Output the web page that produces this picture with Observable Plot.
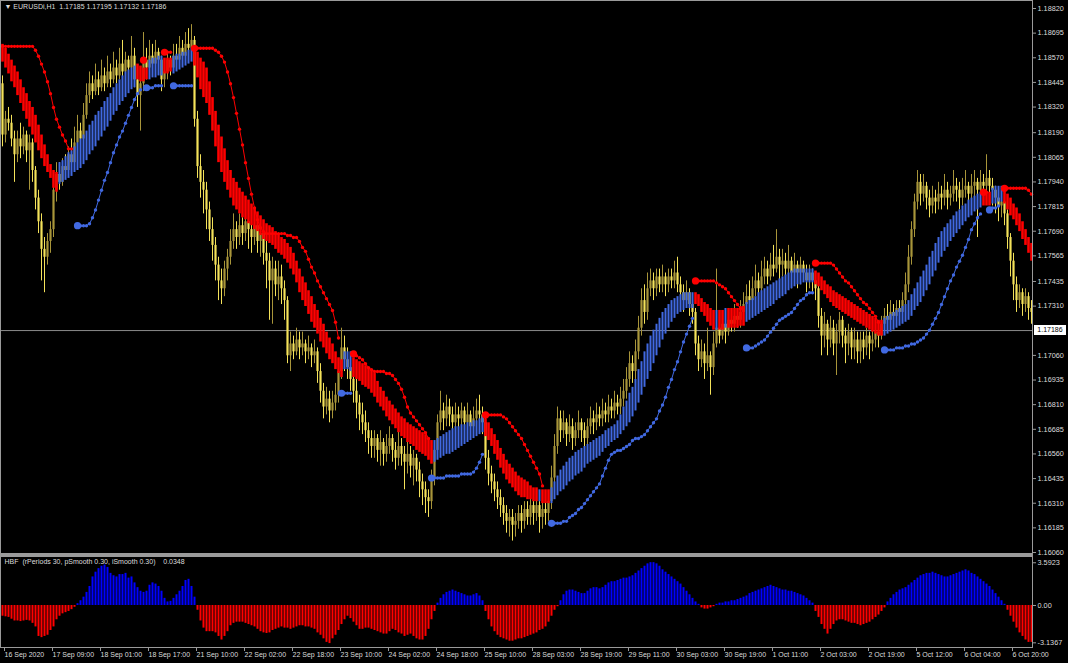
<!DOCTYPE html>
<html><head><meta charset="utf-8">
<script src="https://cdn.jsdelivr.net/npm/d3@7"></script>
<script src="https://cdn.jsdelivr.net/npm/@observablehq/plot@0.6"></script>
<style>
html,body{margin:0;padding:0;background:#000;}
#wrap{position:relative;width:1068px;height:663px;background:#000;overflow:hidden;}
#wrap svg{overflow:visible;display:block;}
#sep{width:1033px;height:3px;background:#9a9a9a;}
#bid{position:absolute;left:1034px;width:32px;height:10px;background:#fff;color:#000;font:7px 'Liberation Sans',Arial,sans-serif;line-height:10px;text-align:center;}
</style></head>
<body><div id="wrap"></div>
<script>
// ---- Data (prices in pips above the base price 1.15938) ----
const basePrice = 1.15938;
const headerText = "\u25BC EURUSDi,H1  1.17185 1.17195 1.17132 1.17186";
const indicatorTitle = "HBF  (rPeriods 30, pSmooth 0.30, iSmooth 0.30)    0.0348";
const bidPrice = 1.17186;

const openPips = [250,224,232,230,222,214,222,218,224,216,220,206,192,180,166,162,170,176,196,204,200,208,206,214,210,220,226,222,234,244,250,246,252,248,254,250,256,252,258,254,260,256,262,258,264,252,244,250,262,258,264,260,266,262,252,256,262,258,264,262,268,264,270,268,272,232,208,200,196,186,176,168,158,150,146,156,162,170,176,172,178,174,180,176,172,178,170,174,164,160,150,156,148,152,146,140,112,118,114,120,116,118,114,116,112,114,104,94,86,90,84,88,92,104,116,110,106,100,94,88,82,78,74,70,66,70,64,68,62,66,70,64,60,66,62,58,62,56,60,54,48,44,40,38,50,64,78,84,80,86,82,78,82,80,84,78,82,76,80,84,82,78,60,52,48,44,40,36,32,28,30,26,28,32,28,34,30,36,32,36,30,34,32,38,50,66,80,74,78,72,76,70,74,78,74,70,76,80,78,82,80,84,82,86,84,88,86,90,94,100,108,104,114,126,140,134,146,150,146,152,148,152,148,152,150,154,148,144,140,144,138,134,118,110,114,108,112,106,118,126,122,128,124,130,128,132,130,134,138,142,140,146,150,146,152,156,152,158,156,162,158,160,156,160,154,158,154,158,154,150,154,150,146,132,122,128,120,126,118,124,130,122,118,124,116,120,114,120,116,122,118,120,124,122,128,132,130,134,132,136,134,140,148,162,176,190,200,194,198,192,188,192,190,194,192,196,192,194,198,196,192,196,198,194,198,200,196,200,198,202,198,196,192,188,190,184,172,160,148,140,144,138,142,136];
const highPips = [254,236,238,234,226,226,230,228,226,224,222,208,196,184,172,174,180,200,210,210,212,214,218,222,228,234,230,240,250,256,254,260,256,262,258,264,260,266,262,268,272,266,264,274,268,256,254,276,268,272,270,272,268,264,262,266,264,270,270,274,272,276,278,280,274,236,214,206,200,190,182,172,162,156,160,166,176,184,180,184,182,186,182,180,182,180,178,176,170,164,162,160,160,158,150,142,124,122,126,124,124,120,122,118,120,116,108,98,96,94,94,98,108,126,122,116,110,106,100,92,88,84,78,74,74,72,74,70,72,76,72,68,78,70,66,68,66,64,62,58,52,48,44,54,68,82,94,88,92,90,86,88,86,88,86,88,84,86,90,92,86,80,64,56,52,48,44,40,36,34,34,32,36,36,38,38,40,38,40,38,40,38,42,56,72,86,84,84,80,82,80,78,84,80,78,80,86,84,88,86,90,88,92,90,94,92,96,100,106,114,112,120,132,146,148,154,156,154,156,156,158,154,156,156,160,162,152,148,150,146,142,136,122,120,118,126,114,124,156,130,134,132,136,134,138,136,140,144,148,150,152,158,154,160,162,160,164,168,176,166,166,164,168,162,164,160,162,160,158,158,156,152,148,136,134,130,132,130,128,134,132,126,128,126,126,124,124,124,126,124,126,128,128,132,136,138,140,138,140,140,144,154,168,180,194,206,204,204,200,196,198,196,200,198,204,200,198,206,202,200,202,206,200,204,206,202,206,204,214,206,202,198,194,196,192,186,174,164,152,148,146,146,144,140];
const lowPips = [218,220,226,218,200,210,212,214,210,196,200,186,174,150,144,158,164,172,190,196,198,202,204,206,208,216,218,220,232,240,242,244,244,246,246,248,248,250,250,252,252,254,252,256,248,238,226,246,252,254,256,258,256,246,248,252,254,256,258,260,260,262,262,266,228,202,192,184,176,170,160,150,140,138,142,150,158,166,166,168,168,170,166,164,168,164,162,158,146,130,128,142,140,138,130,108,104,110,112,110,112,108,110,106,108,98,88,80,82,78,80,84,88,100,104,100,94,88,80,74,72,68,62,60,60,58,56,56,58,62,58,54,56,56,44,52,50,46,48,40,36,32,30,34,46,60,74,74,76,76,72,74,74,76,72,74,70,72,76,76,72,54,46,42,38,34,30,26,22,20,18,20,24,22,24,26,26,26,28,22,24,26,28,34,46,62,68,70,66,68,64,66,70,68,64,66,72,72,74,76,76,78,78,80,80,82,82,86,90,96,98,100,110,122,128,130,142,140,142,144,144,142,144,146,146,144,138,134,136,132,128,112,104,106,100,104,92,102,116,118,120,118,122,124,124,126,126,130,134,136,136,142,140,142,148,148,150,152,154,150,152,150,152,146,150,146,148,150,144,146,144,140,126,112,116,112,116,112,102,118,116,108,112,110,110,108,108,110,112,110,114,116,116,120,124,126,126,128,128,130,130,136,144,158,172,186,188,190,186,182,184,184,186,186,188,186,188,190,190,186,188,192,188,190,192,172,190,192,194,192,188,184,180,182,178,166,152,140,134,136,132,134,130,128];
const closePips = [224,232,230,222,214,222,218,224,216,220,206,192,180,166,162,170,176,196,204,200,208,206,214,210,220,226,222,234,244,250,246,252,248,254,250,256,252,258,254,260,256,262,258,264,252,244,250,262,258,264,260,266,262,252,256,262,258,264,262,268,264,270,268,272,232,208,200,196,186,176,168,158,150,146,156,162,170,176,172,178,174,180,176,172,178,170,174,164,160,150,156,148,152,146,140,112,118,114,120,116,118,114,116,112,114,104,94,86,90,84,88,92,104,116,110,106,100,94,88,82,78,74,70,66,70,64,68,62,66,70,64,60,66,62,58,62,56,60,54,48,44,40,38,50,64,78,84,80,86,82,78,82,80,84,78,82,76,80,84,82,78,60,52,48,44,40,36,32,28,30,26,28,32,28,34,30,36,32,36,30,34,32,38,50,66,80,74,78,72,76,70,74,78,74,70,76,80,78,82,80,84,82,86,84,88,86,90,94,100,108,104,114,126,140,134,146,150,146,152,148,152,148,152,150,154,148,144,140,144,138,134,118,110,114,108,112,106,118,126,122,128,124,130,128,132,130,134,138,142,140,146,150,146,152,156,152,158,156,162,158,160,156,160,154,158,154,158,154,150,154,150,146,132,122,128,120,126,118,124,130,122,118,124,116,120,114,120,116,122,118,120,124,122,128,132,130,134,132,136,134,140,148,162,176,190,200,194,198,192,188,192,190,194,192,196,192,194,198,196,192,196,198,194,198,200,196,200,198,202,198,196,192,188,190,184,172,160,148,140,144,138,142,136,134];

// HBF band edges (pips) and trend segments
const bandHiPips = [270,268,265,262,259,256,252,248,245,241,238,234,229,224,219,214,209,206,205,210,211,213,215,216,218,220,222,224,226,229,231,234,236,238,241,243,245,248,250,252,254,256,257,258,259,260,259,258,258,262,263,263,264,264,263,263,263,264,265,265,266,266,267,268,268,266,263,261,258,251,243,236,229,223,217,211,206,202,200,197,195,193,191,189,187,185,183,181,179,178,177,175,174,172,171,169,167,164,160,156,152,149,145,142,138,135,131,128,124,121,118,114,111,110,114,114,114,111,110,109,108,107,106,105,103,99,96,94,91,89,87,85,83,81,80,78,77,76,75,74,73,72,70,69,69,70,71,72,73,74,75,76,76,77,77,78,78,79,79,80,81,80,78,75,72,69,65,62,59,57,55,53,51,50,49,48,46,45,45,44,44,44,44,45,48,51,54,56,58,60,61,63,64,65,66,67,68,69,70,71,72,74,75,76,77,79,82,86,89,93,96,100,105,109,114,118,122,125,128,131,134,136,138,140,141,142,143,144,144,144,144,144,143,141,139,138,136,135,135,135,135,136,136,136,136,136,137,137,139,140,141,142,144,145,146,147,148,149,150,151,152,153,154,155,156,156,156,156,156,156,156,155,154,152,150,148,147,145,144,143,142,141,140,139,138,137,136,135,134,133,132,131,130,130,131,132,133,134,135,136,137,138,140,143,146,149,152,155,158,162,165,169,172,175,177,179,181,183,185,186,188,189,191,192,193,194,195,195,195,195,197,198,198,198,197,194,192,189,187,184,180,176,172,169];
const bandLoPips = [261,258,255,251,248,244,240,236,232,228,224,220,216,212,208,205,202,197,195,199,200,201,202,203,205,206,207,209,211,214,216,218,221,223,226,228,231,234,236,239,241,243,245,247,248,252,251,251,252,252,253,253,254,254,255,255,256,255,256,257,258,259,260,261,259,253,247,243,240,234,226,218,210,205,200,196,192,188,186,184,182,181,179,178,176,175,173,171,170,169,168,166,164,163,161,159,156,153,149,144,140,137,133,129,126,123,119,116,113,110,108,105,103,101,105,105,104,101,100,99,97,96,95,93,91,88,86,84,81,79,77,75,73,71,70,68,67,66,64,63,62,61,59,57,58,59,60,61,62,62,63,64,65,66,67,68,69,70,71,72,73,71,69,66,62,59,55,52,49,47,45,43,41,40,40,39,39,38,38,38,37,37,37,37,39,41,43,44,46,48,49,51,52,53,55,57,58,59,60,61,63,65,66,68,69,70,72,74,76,78,81,84,88,92,96,100,104,108,112,116,120,123,126,129,131,133,134,135,136,136,136,138,137,134,132,129,127,125,125,125,125,126,126,126,126,126,127,127,129,130,131,132,133,134,135,136,137,138,140,141,142,143,145,146,147,148,148,149,149,149,149,148,147,145,143,141,139,137,136,135,134,133,132,131,130,129,128,127,126,125,124,123,122,122,122,123,124,125,126,127,128,129,130,132,135,137,139,142,145,148,152,155,159,162,165,167,170,172,174,176,178,180,182,183,185,186,187,188,188,188,189,189,190,190,189,186,183,181,178,175,171,168,164,160];
const bandSegStart = [0,19,45,49,54,57,64,114,117,144,161,179,180,183,231,238,239,241,242,248,271,294,327,330,334];
const bandSegDir   = [-1,1,-1,1,-1,1,-1,1,-1,1,-1,1,-1,1,-1,1,-1,1,-1,1,-1,1,-1,1,-1];

// Trailing-stop dots (pips, null = none) and their segments
const stopPips = [269,269,269,269,269,269,269,269,269,269,269,267,264,260,256,251,245,238,232,228,224,221,217,217,null,178,178,178,178,179,182,186,191,196,201,205,210,215,219,223,226,230,234,238,242,245,247,262,248,248,248,249,249,249,266,266,266,249,249,249,249,249,249,249,268,268,268,268,268,268,268,267,266,264,261,256,250,243,235,227,219,210,202,194,187,181,177,175,174,174,174,174,174,174,174,173,173,172,172,170,167,165,161,157,154,150,147,144,141,138,135,129,121,93,93,93,93,113,112,111,110,108,106,105,104,104,104,104,103,103,102,100,98,95,91,86,83,81,79,77,75,73,70,50,50,50,50,50,51,51,51,51,51,52,52,52,52,53,55,58,62,82,82,82,82,82,82,81,80,78,76,74,72,70,67,64,61,58,55,52,46,null,null,27,27,27,27,28,28,30,31,32,34,35,37,39,41,43,45,47,51,55,59,62,63,64,64,65,66,67,69,70,70,71,72,74,76,78,80,84,87,91,96,100,105,109,114,119,123,127,131,150,150,150,150,150,150,150,149,148,147,146,144,142,140,138,136,null,116,116,116,117,118,119,120,122,124,126,128,130,131,132,133,134,136,138,140,141,143,144,144,159,159,159,159,159,159,158,156,154,152,150,149,147,145,143,141,139,138,136,134,132,129,null,115,115,115,115,116,116,116,117,117,118,118,119,120,121,123,125,128,131,134,138,142,146,150,153,157,160,163,167,171,176,179,182,184,195,195,186,187,187,188,null,197,197,197,197,197,197,197,197,196,194];
const stopSegStart = [0,25,47,48,54,57,64,113,117,143,161,183,231,248,271,294,327,329,334];
const stopSegDir   = [-1,1,-1,1,-1,1,-1,1,-1,1,-1,1,-1,1,-1,1,-1,1,-1];

// HBF histogram
const histValues = [-0.9,-0.95,-1.0,-1.15,-1.3,-1.3,-1.35,-1.3,-1.25,-1.3,-1.5,-1.8,-2.6,-2.7,-2.6,-2.5,-2.1,-1.8,-1.2,-0.9,-0.7,-0.6,-0.5,-0.35,-0.15,
0.15,0.4,0.7,1.1,1.6,2.4,2.8,3.1,3.3,3.4,3.2,2.7,2.5,2.4,2.6,2.6,2.7,2.3,2.4,1.9,1.5,1.2,1.1,1.2,1.7,1.9,1.8,1.6,1.2,0.6,0.3,0.35,0.6,0.9,1.2,1.6,2.1,2.2,1.6,0.7,
-0.4,-1.3,-1.9,-2.2,-2.2,-2.2,-2.3,-2.6,-2.9,-2.6,-2.2,-1.7,-1.5,-1.4,-1.4,-1.4,-1.5,-1.6,-1.7,-1.8,-2.0,-2.2,-2.3,-2.35,-2.3,-2.1,-2.0,-1.9,-1.8,-1.9,-1.9,-2.0,-1.9,-1.8,-1.7,-1.7,-1.8,-1.8,-1.9,-2.0,-2.3,-2.5,-2.8,-3.1,-3.2,-2.8,-2.5,-2.1,-1.6,-1.2,-0.9,-1.1,-1.4,-1.7,-2.0,-2.0,-1.9,-1.9,-2.0,-2.1,-2.2,-2.3,-2.4,-2.4,-2.2,-2.0,-2.1,-2.3,
-2.4,-2.6,-2.5,-2.4,-2.6,-2.8,-2.9,-2.9,-2.6,-2.0,-1.2,-0.5,
0.2,0.6,0.9,1.1,1.2,1.3,1.2,1.1,1.0,0.9,0.8,0.8,0.9,1.0,0.8,0.4,
-0.5,-1.2,-1.8,-2.2,-2.5,-2.7,-2.8,-2.9,-3.0,-3.0,-2.9,-2.8,-2.8,-2.7,-2.6,-2.5,-2.4,-2.3,-2.1,-2.0,-1.8,-1.4,-0.9,-0.4,-0.1,
0.4,0.9,1.2,1.3,1.3,1.2,1.1,1.0,1.0,1.2,1.4,1.5,1.5,1.4,1.5,1.7,1.9,2.0,2.0,2.1,2.2,2.3,2.3,2.4,2.5,2.7,2.9,3.1,3.3,3.5,3.6,3.6,3.5,3.3,3.0,2.8,2.6,2.4,2.2,2.0,1.8,1.5,1.2,0.9,0.6,0.3,0.1,
-0.2,-0.3,-0.3,-0.2,-0.1,
0.1,0.2,0.2,0.3,0.3,0.4,0.4,0.5,0.6,0.7,0.8,1.0,1.1,1.2,1.3,1.4,1.5,1.6,1.7,1.6,1.5,1.4,1.3,1.3,1.2,1.2,1.1,1.0,0.9,0.8,0.6,0.4,0.2,
-0.5,-1.0,-1.6,-2.0,-2.4,-2.0,-1.6,-1.3,-1.2,-1.2,-1.3,-1.4,-1.5,-1.5,-1.6,-1.7,-1.6,-1.5,-1.4,-1.2,-1.0,-0.8,-0.5,-0.2,
0.3,0.6,0.9,1.1,1.3,1.4,1.5,1.7,1.9,2.1,2.3,2.5,2.6,2.7,2.7,2.8,2.7,2.6,2.5,2.4,2.4,2.5,2.6,2.7,2.8,2.9,3.0,2.9,2.7,2.6,2.4,2.2,2.0,1.8,1.6,1.3,1.0,0.7,0.4,0.1,
-0.4,-0.9,-1.4,-1.9,-2.3,-2.6,-2.9,-3.1,-3.1];

// Axis ticks
const priceTicks = [1.18820,1.18695,1.18570,1.18445,1.18320,1.18190,1.18065,1.17940,1.17815,1.17690,1.17565,1.17435,1.17310,1.17060,1.16935,1.16810,1.16685,1.16560,1.16435,1.16310,1.16185,1.16060];
const histTicks = [3.5923, 0, -3.1367];
const histTickLabels = ["3.5923", "0.00", "-3.1367"];
const timeTickBars = [0,16,32,48,64,80,96,112,128,144,160,176,192,208,224,240,256,272,288,304,320,336];
const timeTickLabels = ["16 Sep 2020","17 Sep 09:00","18 Sep 01:00","18 Sep 17:00","21 Sep 10:00","22 Sep 02:00","22 Sep 18:00","23 Sep 10:00","24 Sep 02:00","24 Sep 18:00","25 Sep 10:00","28 Sep 03:00","28 Sep 19:00","29 Sep 11:00","30 Sep 03:00","30 Sep 19:00","1 Oct 11:00","2 Oct 03:00","2 Oct 19:00","5 Oct 12:00","6 Oct 04:00","6 Oct 20:00"];

// Colours
const bullColor = "#a8953a", bearColor = "#f4e25a";
const bandRed = "#ff0000", bandBlue = "#4169e1";
const histBlue = "#0000ff", histRed = "#ff0000";
const axisGrey = "#9a9a9a", textColor = "#dcdcdc";
const FONT = "'Liberation Sans', Arial, sans-serif";

// ---- Build rows ----
const px = v => basePrice + v / 10000;
const N = closePips.length;
const segOf = (starts, i) => { let k = 0; while (k + 1 < starts.length && starts[k + 1] <= i) k++; return k; };
const bars = d3.range(N).map(i => {
  const b = segOf(bandSegStart, i), s = segOf(stopSegStart, i);
  return {
    i, o: px(openPips[i]), h: px(highPips[i]), l: px(lowPips[i]), c: px(closePips[i]),
    bull: closePips[i] > openPips[i],
    bHi: px(bandHiPips[i]), bLo: px(bandLoPips[i]), bUp: bandSegDir[b] > 0,
    stop: stopPips[i] == null ? null : px(stopPips[i]), sSeg: s, sUp: stopSegDir[s] > 0,
    hist: histValues[i]
  };
});
const stopRows = bars.filter(d => d.stop != null);
const stopStarts = stopSegStart.slice(1).map(i => bars[i]).filter(d => d.stop != null);
const upBand = bars.filter(d => d.bUp), downBand = bars.filter(d => !d.bUp);

const xDomain = [-2 / 3, N - 2 / 3];
const baseStyle = {background: "transparent", color: textColor, fontFamily: FONT, fontSize: "7px"};

const mainPlot = Plot.plot({
  width: 1068, height: 553,
  marginLeft: 0, marginRight: 36, marginTop: 0, marginBottom: 0,
  x: {domain: xDomain, axis: null, label: null},
  y: {domain: [1.160549, 1.188606], axis: null, label: null},
  color: {type: "identity"},
  style: baseStyle,
  marks: [
    Plot.ruleY([bidPrice], {stroke: "#8a8a8a", strokeWidth: 1}),
    Plot.ruleX(bars, {x: "i", y1: "l", y2: "h", stroke: d => d.bull ? bullColor : bearColor, strokeWidth: 1}),
    Plot.ruleX(bars, {x: "i", y1: "o", y2: "c", stroke: d => d.bull ? bullColor : bearColor, strokeWidth: 2.2}),
    Plot.ruleX(upBand, {x: "i", y1: "bLo", y2: "bHi", stroke: bandBlue, strokeWidth: 2}),
    Plot.ruleX(downBand, {x: "i", y1: "bLo", y2: "bHi", stroke: bandRed, strokeWidth: 2.6}),
    Plot.line(stopRows, {x: "i", y: "stop", z: "sSeg", stroke: d => d.sUp ? bandBlue : bandRed, strokeWidth: 1}),
    Plot.dot(stopRows, {x: "i", y: "stop", r: 1.7, fill: d => d.sUp ? bandBlue : bandRed, stroke: null}),
    Plot.dot(stopStarts, {x: "i", y: "stop", r: 3.6, fill: d => d.sUp ? bandBlue : bandRed, stroke: null}),
    Plot.frame({stroke: axisGrey}),
    Plot.axisY(priceTicks, {anchor: "right", label: null, tickSize: 3, tickPadding: 2, tickFormat: d3.format(".5f"), stroke: axisGrey, fill: textColor, fontSize: 7.3, textAnchor: "start"}),
    Plot.text([headerText], {text: d => d, frameAnchor: "top-left", dx: 4, dy: 4, lineAnchor: "top", textAnchor: "start", fill: textColor, fontSize: 7})
  ]
});

const indPlot = Plot.plot({
  width: 1068, height: 107,
  marginLeft: 0, marginRight: 36, marginTop: 0, marginBottom: 16,
  x: {domain: xDomain, axis: null, label: null},
  y: {domain: [-3.5294, 4.1176], axis: null, label: null},
  color: {type: "identity"},
  style: baseStyle,
  marks: [
    Plot.ruleX(bars, {x: "i", y1: 0, y2: "hist", stroke: d => d.hist >= 0 ? histBlue : histRed, strokeWidth: 2}),
    Plot.frame({stroke: axisGrey}),
    Plot.axisY(histTicks, {anchor: "right", label: null, tickSize: 3, tickPadding: 2, tickFormat: d => histTickLabels[histTicks.indexOf(d)], stroke: axisGrey, fill: textColor, fontSize: 7.3, textAnchor: "start"}),
    Plot.axisX(timeTickBars, {anchor: "bottom", label: null, tickSize: 4, tickPadding: 1, tickFormat: d => timeTickLabels[timeTickBars.indexOf(d)], stroke: axisGrey, fill: textColor, fontSize: 7, textAnchor: "start", dx: 2}),
    Plot.text([indicatorTitle], {text: d => d, frameAnchor: "top-left", dx: 4, dy: 3, lineAnchor: "top", textAnchor: "start", fill: textColor, fontSize: 7})
  ]
});

const wrap = document.getElementById("wrap");
wrap.appendChild(mainPlot);
const sep = document.createElement("div"); sep.id = "sep"; wrap.appendChild(sep);
wrap.appendChild(indPlot);
const bid = document.createElement("div");
bid.id = "bid";
bid.textContent = bidPrice.toFixed(5);
bid.style.top = (mainPlot.scale("y").apply(bidPrice) - 5) + "px";
wrap.appendChild(bid);
</script></body></html>
